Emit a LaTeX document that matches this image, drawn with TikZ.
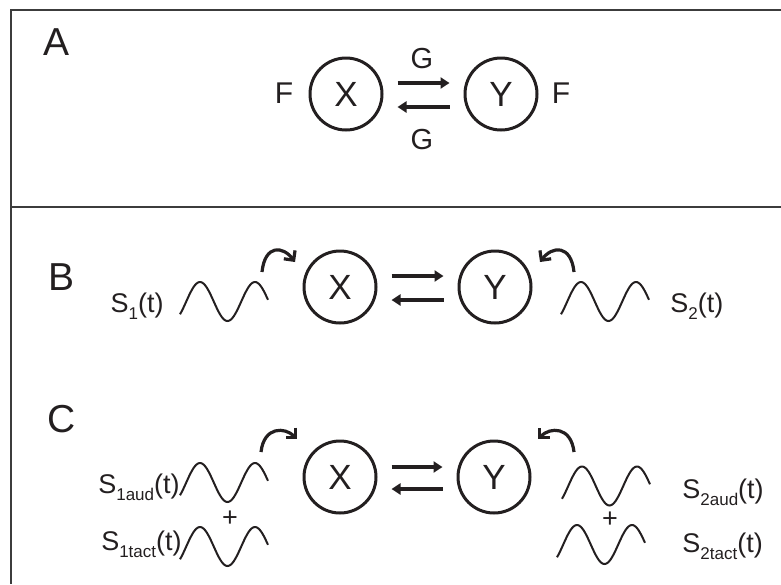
\documentclass[tikz,border=0pt]{standalone}
\usepackage{fontspec}
\setmainfont{Liberation Sans}
\usetikzlibrary{arrows.meta}
\definecolor{ink}{HTML}{231F20}
\definecolor{rulegray}{HTML}{3C3C3C}
\tikzset{
  unit/.style={draw=ink, line width=1.5pt, circle, minimum size=36pt,
               inner sep=0pt, text=ink, font=\fontsize{17.5}{18}\selectfont},
  panel/.style={anchor=base west, inner sep=0pt, text=ink,
                font=\fontsize{19.5}{20}\selectfont},
  sig/.style={inner sep=0pt, text=ink, font=\fontsize{13.5}{14}\selectfont},
  coef/.style={inner sep=0pt, text=ink, font=\fontsize{15}{16}\selectfont},
  gain/.style={inner sep=0pt, text=ink, font=\fontsize{14.5}{15}\selectfont},
  flow/.style={-{Triangle[length=4.5pt, width=5.5pt]}, line width=1.8pt, draw=ink,
               shorten <=7pt, shorten >=7pt},
  kick/.style={-{Straight Barb[length=3.5pt, width=7pt]}, line width=1.6pt, draw=ink},
  wave/.style={line width=1pt, draw=ink},
  frame/.style={line width=1.2pt, draw=rulegray},
}
\newcommand{\lowsub}[1]{\raisebox{-3.5pt}{\fontsize{8.5}{9}\selectfont #1}}
\newcommand{\sigwave}[2]{%
  \draw[wave] plot[domain=0:88, samples=60, smooth]
    ({#1+\x}, {#2-19.5*cos(6.545*(\x-20))});}

\begin{document}
\begin{tikzpicture}[x=0.5pt, y=-0.5pt]
  \useasboundingbox (0,0) rectangle (781,584);
  \draw[frame] (781,10) -- (11,10) -- (11,584);
  \draw[frame] (11,207) -- (781,207);

  \node[panel] (pA) at (43,55) {A};
  \node[panel] (pB) at (48,290) {B};
  \node[panel] (pC) at (47,432) {C};

  \node[unit] (xA) at (346,94) {X};
  \node[unit] (yA) at (501,94) {Y};
  \node[coef] (fL) at (284,93) {F};
  \node[coef] (fR) at (561,93) {F};
  \node[gain] (gT) at (422,59) {G};
  \node[gain] (gB) at (422,140) {G};
  \draw[flow] ([yshift=5.5pt]xA.east) -- ([yshift=5.5pt]yA.west);
  \draw[flow] ([yshift=-6.5pt]yA.west) -- ([yshift=-6.5pt]xA.east);

  \node[unit] (xB) at (340,287) {X};
  \node[unit] (yB) at (495,287) {Y};
  \draw[flow] ([yshift=5.5pt]xB.east) -- ([yshift=5.5pt]yB.west);
  \draw[flow] ([yshift=-6.5pt]yB.west) -- ([yshift=-6.5pt]xB.east);
  \node[sig, anchor=base east] (s1B) at (164,312) {S\lowsub{1}(t)};
  \node[sig, anchor=base west] (s2B) at (670,312) {S\lowsub{2}(t)};
  \coordinate (kB1s) at (262,272);
  \coordinate (kB1e) at (295,262);
  \coordinate (kB2s) at (574,272);
  \coordinate (kB2e) at (540,262);
  \draw[kick] (kB1s) .. controls +(3,-28) and +(-12,-16) .. (kB1e);
  \draw[kick] (kB2s) .. controls +(-3,-28) and +(12,-16) .. (kB2e);

  \node[unit] (xC) at (340,477) {X};
  \node[unit] (yC) at (494,477) {Y};
  \draw[flow] ([yshift=5pt]xC.east) -- ([yshift=5pt]yC.west);
  \draw[flow] ([yshift=-6pt]yC.west) -- ([yshift=-6pt]xC.east);
  \node[sig, anchor=base east] (s1aud) at (180,493) {S\lowsub{1aud}(t)};
  \node[sig, anchor=base east] (s1tact) at (182,550) {S\lowsub{1tact}(t)};
  \node[sig, anchor=base west] (s2aud) at (682,498) {S\lowsub{2aud}(t)};
  \node[sig, anchor=base west] (s2tact) at (682,552) {S\lowsub{2tact}(t)};
  \node[sig] (plusL) at (230,519) {+};
  \node[sig] (plusR) at (610,520) {+};
  \coordinate (kC1s) at (261,452);
  \coordinate (kC1e) at (297,439);
  \coordinate (kC2s) at (574,452);
  \coordinate (kC2e) at (538,439);
  \draw[kick] (kC1s) .. controls +(3,-26) and +(-12,-12) .. (kC1e);
  \draw[kick] (kC2s) .. controls +(-3,-26) and +(12,-12) .. (kC2e);

  \foreach \xs/\yc in {180/301.5, 561/301.5, 180/482.5, 180/546.5, 562/486, 557/544.5}{
    \sigwave{\xs}{\yc}
  }
\end{tikzpicture}
\end{document}
